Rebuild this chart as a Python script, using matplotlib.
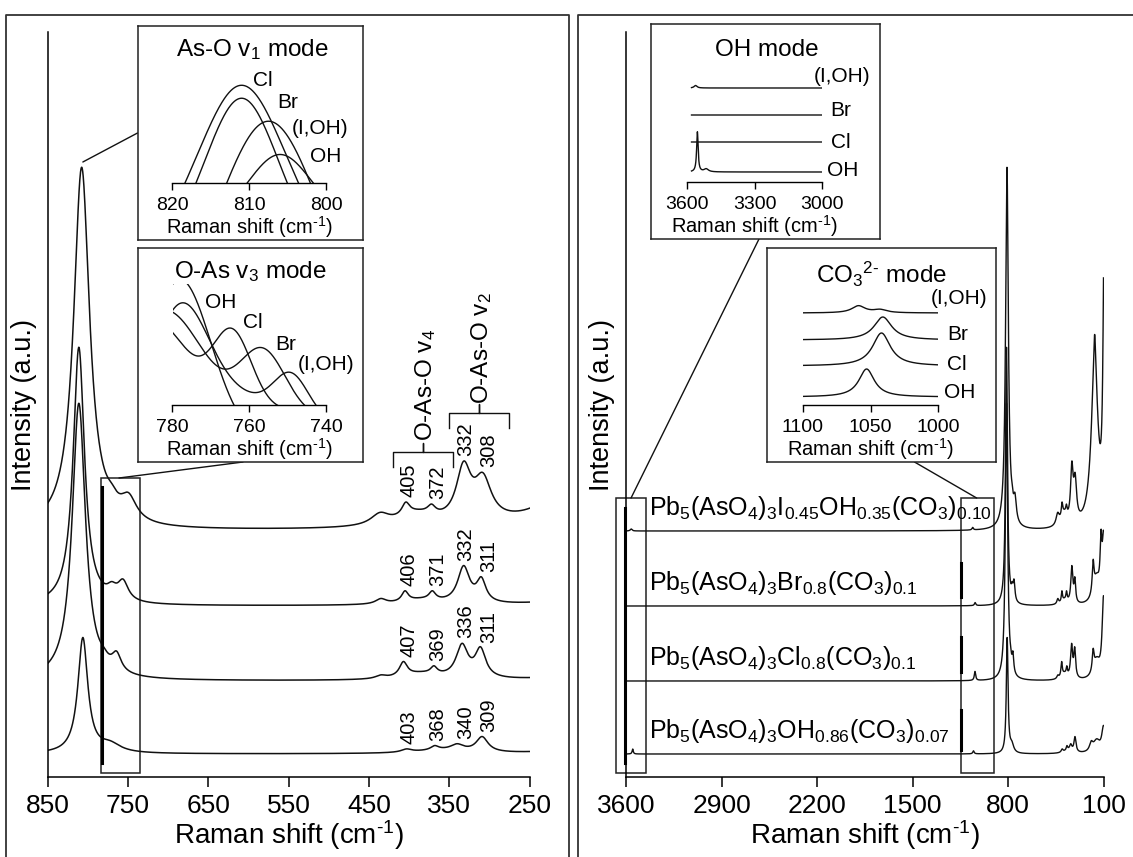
import numpy as np
import matplotlib.pyplot as plt
from matplotlib.lines import Line2D
from matplotlib.patches import Rectangle, ConnectionPatch

plt.rcParams['font.family'] = ['Liberation Sans', 'DejaVu Sans']
plt.rcParams['mathtext.fontset'] = 'custom'
plt.rcParams['mathtext.rm'] = 'Liberation Sans'
plt.rcParams['mathtext.it'] = 'Liberation Sans:italic'
plt.rcParams['mathtext.bf'] = 'Liberation Sans:bold'

# samples, from the top trace to the bottom one
samples = ['(I,OH)', 'Br', 'Cl', 'OH']
formulas = [r'Pb$_5$(AsO$_4$)$_3$I$_{0.45}$OH$_{0.35}$(CO$_3$)$_{0.10}$',
            r'Pb$_5$(AsO$_4$)$_3$Br$_{0.8}$(CO$_3$)$_{0.1}$',
            r'Pb$_5$(AsO$_4$)$_3$Cl$_{0.8}$(CO$_3$)$_{0.1}$',
            r'Pb$_5$(AsO$_4$)$_3$OH$_{0.86}$(CO$_3$)$_{0.07}$']
offsets = [246, 171, 96, 23]

# Raman bands: (position cm-1, height a.u., half width cm-1)
bands_ioh = [(3562, 2, 8), (1059, 2.5, 6), (807.5, 362, 12), (770, 8, 8), (749, 22, 12),
             (436, 11, 14), (404, 12, 6), (390, 12, 30), (372, 8, 6), (332, 52, 11),
             (308, 40, 13), (165, 30, 8), (165, 160, 30), (95, 280, 10)]
bands_br = [(1041, 3, 6), (811, 258, 8.5), (770, 9, 7), (756, 19, 8), (435, 5, 8),
            (405, 10, 5), (385, 5, 30), (371, 8, 5), (332, 36, 9), (310, 22, 7),
            (176, 30, 8), (150, 25, 30), (118, 50, 8), (100, 60, 10)]
bands_cl = [(1042, 9, 6), (811, 277, 10), (780, 5, 7), (764, 17, 7), (435, 3, 8),
            (407, 14, 6), (385, 6, 30), (369, 7, 5), (334, 32, 9), (311, 28, 8),
            (176, 20, 8), (150, 18, 30), (100, 80, 12)]
bands_oh = [(3551, 5, 5), (1053, 3, 6), (806, 115, 7.5), (772, 8, 16), (403, 3, 8),
            (368, 4, 6), (360, 3, 40), (340, 6, 10), (309, 15, 9), (190, 8, 15),
            (150, 12, 30), (100, 25, 15)]
bands = [bands_ioh, bands_br, bands_cl, bands_oh]

peak_labels = [[405, 372, 332, 308], [406, 371, 332, 311],
               [407, 369, 336, 311], [403, 368, 340, 309]]

# As-O v1 inset: level cut off under each band top
nu1_cut = [302, 174, 180, 88]

# O-As v3 inset (inset units): gaussian bands (position, height, sigma) and base level
nu3_base = [-20, -13, -5.1, -34.5]
nu3_bands = [[(778, 105, 7), (765, 30, 12), (749, 40, 4.5)],
             [(782, 108, 10), (756.5, 66, 6)],
             [(785, 90, 9), (764.4, 75, 5)],
             [(778, 160, 8)]]

# OH stretching and carbonate windows (inset units)
oh_base = [94, 67, 40, 10]
oh_bands = [[(3562, 2.5, 8)], [], [], [(3554, 40, 4), (3515, 3, 12)]]
co3_base = [92, 65, 39, 8]
co3_bands = [[(1059, 7, 6), (1043, 3, 6)], [(1041, 23, 8)], [(1042, 33, 8)], [(1053, 28, 7)]]


def spectrum(x, peaks):
    y = np.zeros_like(x)
    for c, h, g in peaks:
        y += h / (1 + ((x - c) / g) ** 2)
    return y


def gauss_sum(x, peaks):
    y = np.zeros_like(x)
    for c, h, s in peaks:
        y += h * np.exp(-0.5 * ((x - c) / s) ** 2)
    return y


W, H = 1133, 857
fig = plt.figure(figsize=(W / 100, H / 100), dpi=100)


def px_rect(x0, y0, x1, y1):
    return [x0 / W, 1 - y1 / H, (x1 - x0) / W, (y1 - y0) / H]


# panel frames
for xs, ys in [([6, 6, 569, 569], [H + 5, 15, 15, H + 5]), ([578, 578, W + 5], [H + 5, 15, 15])]:
    fig.add_artist(Line2D([v / W for v in xs], [1 - v / H for v in ys], color='#333333', lw=1.3))

xlab = r'Raman shift (cm$^{\text{-}1}$)'


def main_axes(rect, xlim, xticks, ylab_x):
    ax = fig.add_axes(px_rect(*rect))
    ax.set_xlim(*xlim)
    ax.set_ylim(0, 745)
    ax.set_xticks(xticks)
    ax.set_yticks([])
    for s in ['top', 'right']:
        ax.spines[s].set_visible(False)
    for s in ['left', 'bottom']:
        ax.spines[s].set_linewidth(1.1)
    ax.tick_params(axis='x', direction='out', length=7, width=1.1, labelsize=19, pad=5)
    ax.set_xlabel(xlab, fontsize=20, va='center')
    ax.xaxis.set_label_coords(0.5, -58 / 745)
    ax.set_ylabel('Intensity (a.u.)', fontsize=19.5, va='center')
    ax.yaxis.set_label_coords(ylab_x, 0.5)
    ax.patch.set_alpha(0)
    return ax


ax1 = main_axes((47.5, 32, 529.5, 777), (850, 250), [850, 750, 650, 550, 450, 350, 250], -23.5 / 482)
ax2 = main_axes((626, 32, 1103.5, 777), (3600, 100), [3600, 2900, 2200, 1500, 800, 100], -24 / 477.5)

x_left = np.linspace(850, 250, 2000)
x_right = np.linspace(3590, 100, 8000)
label_x = [400, 364, 329, 301]
for i in range(4):
    yl = offsets[i] + spectrum(x_left, bands[i])
    ax1.plot(x_left, yl, color='#111111', lw=1.1)
    ax2.plot(x_right, offsets[i] + spectrum(x_right, bands[i]), color='#111111', lw=1.0)
    for lx, lab in zip(label_x, peak_labels[i]):
        m = (x_left <= lx + 9) & (x_left >= lx - 9)
        ax1.text(lx, yl[m].max() + 5, str(lab), rotation=90, ha='center', va='bottom', fontsize=14.5)
    ax2.text(3428, offsets[i] + 16, formulas[i], fontsize=18, ha='left', va='baseline')

# brackets over the bending modes
for left, right, mid, yb, ytxt, txt in [(420, 345.2, 382.6, 325, 336, r'O-As-O v$_4$'),
                                         (350.2, 275.5, 313.4, 364, 373, r'O-As-O v$_2$')]:
    ax1.plot([left, left, mid, mid, mid, right, right], [yb - 15, yb, yb, yb + 9, yb, yb, yb - 15],
             color='#111111', lw=1.0, clip_on=False)
    ax1.text(mid - 3.5, ytxt, txt, rotation=90, ha='center', va='bottom', fontsize=17.5)

# zoom windows
ax1.add_patch(Rectangle((784, 4), -49, 295, fill=False, lw=1.1, color='#222222', clip_on=False))
ax1.plot([782.5, 782.5], [14, 290], color='k', lw=2.2)
ax2.add_patch(Rectangle((3676, 4), -223, 275, fill=False, lw=1.1, color='#222222', clip_on=False))
ax2.add_patch(Rectangle((1145, 4), -242, 275, fill=False, lw=1.1, color='#222222', clip_on=False))
ax2.plot([3606, 3606], [14, 269], color='k', lw=2.2, clip_on=False)
for y0, y1 in [(180, 214), (105, 140), (27, 67)]:
    ax2.plot([1148, 1148], [y0, y1], color='k', lw=2.2)


def inset(box, plot, xlim, ylim, xticks, title, title_xy):
    bx = fig.add_axes(px_rect(*box))
    bx.set_xticks([])
    bx.set_yticks([])
    for s in bx.spines.values():
        s.set_linewidth(1.1)
        s.set_color('#222222')
    bx.set_zorder(5)
    bx.text((title_xy[0] - box[0]) / (box[2] - box[0]), 1 - (title_xy[1] - box[1]) / (box[3] - box[1]),
            title, transform=bx.transAxes, ha='center', va='center', fontsize=17.5)
    ax = fig.add_axes(px_rect(*plot))
    ax.set_zorder(6)
    ax.patch.set_alpha(0)
    ax.set_xlim(*xlim)
    ax.set_ylim(*ylim)
    ax.set_xticks(xticks)
    ax.set_yticks([])
    for s in ['top', 'right', 'left']:
        ax.spines[s].set_visible(False)
    ax.spines['bottom'].set_linewidth(1.0)
    ax.tick_params(axis='x', direction='out', length=5, width=1.0, labelsize=14, pad=5)
    ax.set_xlabel(xlab, fontsize=14.5, labelpad=0)
    return bx, ax


# As-O v1 inset
b1, i1 = inset((137.5, 25.7, 362.5, 240), (172.5, 65, 326, 183), (820, 800), (0, 118),
               [820, 810, 800], r'As-O v$_1$ mode', (252, 50))
xs = np.linspace(820, 800, 600)
for i in range(4):
    i1.plot(xs, spectrum(xs, bands[i]) - nu1_cut[i], color='#111111', lw=1.0)
for s, (lx, ly) in zip(samples, [(804.4, 55), (806.3, 80), (809.5, 102), (802.1, 27)]):
    i1.text(lx, ly, s, fontsize=15, ha='left', va='center', clip_on=False)

# O-As v3 inset
b2, i2 = inset((137.5, 248, 362.5, 462), (172.5, 284, 326, 405), (780, 740), (0, 121),
               [780, 760, 740], r'O-As v$_3$ mode', (250, 272))
xs = np.linspace(780, 740, 600)
for i in range(4):
    i2.plot(xs, nu3_base[i] + gauss_sum(xs, nu3_bands[i]), color='#111111', lw=1.0)
for s, (lx, ly) in zip(samples, [(747.3, 40), (753.3, 61), (761.6, 83), (771.5, 103)]):
    i2.text(lx, ly, s, fontsize=15, ha='left', va='center', clip_on=False)

# OH inset
b3, i3 = inset((650.6, 24, 879.8, 239), (687, 62, 822.4, 182), (3600, 3000), (0, 120),
               [3600, 3300, 3000], 'OH mode', (767, 50))
xs = np.linspace(3580, 3000, 1500)
for i in range(4):
    i3.plot(xs, oh_base[i] + spectrum(xs, oh_bands[i]), color='#111111', lw=1.0)
for s, (lx, ly) in zip(samples, [(3037, 106), (2966, 72), (2962, 40), (2980, 12)]):
    i3.text(lx, ly, s, fontsize=15, ha='left', va='center', clip_on=False)

# carbonate inset
b4, i4 = inset((767, 248, 996, 462), (803, 290, 938.3, 405), (1100, 1000), (0, 115),
               [1100, 1050, 1000], r'CO$_3$$^{2\text{-}}$ mode', (881.6, 274))
xs = np.linspace(1100, 1000, 800)
for i in range(4):
    i4.plot(xs, co3_base[i] + spectrum(xs, co3_bands[i]), color='#111111', lw=1.0)
for s, (lx, ly) in zip(samples, [(1005.4, 107), (993.3, 71), (993.6, 40), (996, 12)]):
    i4.text(lx, ly, s, fontsize=15, ha='left', va='center', clip_on=False)

# connectors from the zoomed regions to the insets
for axA, xyA, bxB, xyB in [(ax1, (806, 615), b1, (0, 1 - 107.3 / 214.3)),
                           (ax1, (761, 299), b2, (105.5 / 225, 0)),
                           (ax2, (3563, 279), b3, (108.4 / 229.2, 0)),
                           (ax2, (1030, 279), b4, (147.5 / 229, 0))]:
    fig.add_artist(ConnectionPatch(xyA=xyA, coordsA=axA.transData, xyB=xyB, coordsB=bxB.transAxes,
                                   color='#111111', lw=1.0))

fig.savefig('out.png', dpi=100)
